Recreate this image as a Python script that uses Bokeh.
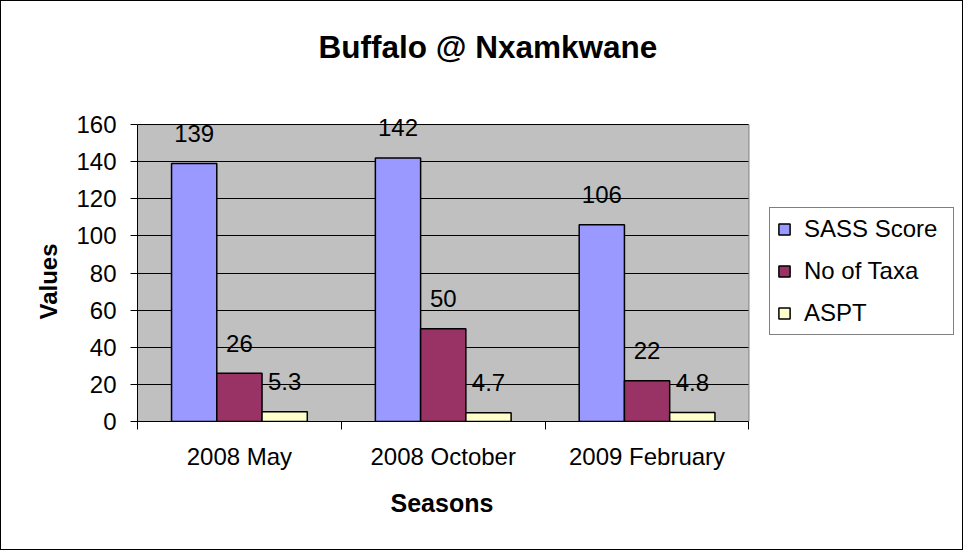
from bokeh.plotting import figure
from bokeh.models import (ColumnDataSource, Range1d, FixedTicker, Legend, LegendItem, Title)
from bokeh.transform import dodge
from bokeh.core.properties import value
from bokeh.embed import file_html
from bokeh.resources import INLINE

# ---- data ----
seasons = ["2008 May", "2008 October", "2009 February"]
sass_score = [139, 142, 106]
no_of_taxa = [26, 50, 22]
aspt = [5.3, 4.7, 4.8]
series_names = ["SASS Score", "No of Taxa", "ASPT"]
series_colors = ["#9999FF", "#993366", "#FFFFCC"]
y_ticks = [0, 20, 40, 60, 80, 100, 120, 140, 160]
title_text = "Buffalo @ Nxamkwane"
x_title = "Seasons"
y_title = "Values"

FONT = "Liberation Sans"

# layout (canvas pixels; the page adds a 1px border around the canvas)
W, H = 961, 548
F_LEFT, PLOT_RIGHT, F_TOP, F_BOTTOM = 136, 746, 113, 418
PLOT_TOP_PX = 123          # where the 160 line sits
n_cat = len(seasons)
y_max = y_ticks[-1]
px_per_unit = (F_BOTTOM - PLOT_TOP_PX) / y_max
y_end = y_max + (PLOT_TOP_PX - F_TOP) / px_per_unit
px_per_cat = (PLOT_RIGHT - F_LEFT) / n_cat
x_end = n_cat + (W - PLOT_RIGHT) / px_per_cat   # frame runs to the right edge (legend area)

centers = [i + 0.5 for i in range(n_cat)]
src = ColumnDataSource(dict(
    x=centers,
    sass=sass_score, taxa=no_of_taxa, aspt=aspt,
    sass_l=[str(v) for v in sass_score],
    taxa_l=[str(v) for v in no_of_taxa],
    aspt_l=[str(v) for v in aspt],
))

p = figure(width=W, height=H, output_backend="svg", toolbar_location=None, title=None,
           x_range=Range1d(0, x_end), y_range=Range1d(0, y_end),
           min_border_left=F_LEFT, min_border_right=0, min_border_top=F_TOP,
           min_border_bottom=H - F_BOTTOM)
p.styles = {"border": "1px solid black", "box-sizing": "content-box"}
p.background_fill_color = "white"
p.border_fill_color = "white"
p.outline_line_color = None

# grey plot area
p.quad(left=[0], right=[n_cat], bottom=[0], top=[y_max],
       fill_color="#C0C0C0", line_color="#808080", line_width=1, level="image")

bw = 0.222
offsets = [-bw, 0.0, bw]
fields = ["sass", "taxa", "aspt"]
labels = ["sass_l", "taxa_l", "aspt_l"]
renderers = []
for f, lab, off, col in zip(fields, labels, offsets, series_colors):
    r = p.vbar(x=dodge("x", off, range=p.x_range), top=f, width=bw, bottom=0,
               source=src, fill_color=col, line_color="black", line_width=1.5)
    renderers.append(r)
    p.text(x=dodge("x", off, range=p.x_range), y=f, text=lab, source=src,
           text_align="center", text_baseline="middle", y_offset=-30,
           text_font=value(FONT), text_font_size="24px", text_color="black")

# axes
xa = p.xaxis[0]
xa.ticker = FixedTicker(ticks=centers, minor_ticks=list(range(n_cat + 1)))
xa.bounds = (0, n_cat)
xa.major_label_overrides = {c: s for c, s in zip(centers, seasons)}
xa.major_tick_out = 0
xa.major_tick_in = 0
xa.minor_tick_out = 8
xa.minor_tick_in = 0
xa.minor_tick_line_color = "black"
xa.axis_line_color = "black"
xa.major_label_standoff = 13
xa.major_label_text_font = FONT
xa.major_label_text_font_size = "24px"
xa.major_label_text_color = "black"

ya = p.yaxis[0]
ya.ticker = FixedTicker(ticks=y_ticks, minor_ticks=[])
ya.bounds = (0, y_max)
ya.major_tick_out = 7
ya.major_tick_in = 0
ya.major_tick_line_color = "black"
ya.axis_line_color = "black"
ya.major_label_standoff = 14
ya.major_label_text_font = FONT
ya.major_label_text_font_size = "24px"
ya.major_label_text_color = "black"

p.xgrid.visible = False
p.ygrid.ticker = FixedTicker(ticks=y_ticks)
p.ygrid.cross_bounds = (0, n_cat)
p.ygrid.grid_line_color = "black"
p.ygrid.grid_line_width = 1

legend = Legend(items=[LegendItem(label=n, renderers=[r]) for n, r in zip(series_names, renderers)],
                location=(632, 86), margin=0, padding=7, spacing=14,
                glyph_width=14, glyph_height=14, label_height=28, label_width=142,
                label_standoff=13, label_text_font=FONT, label_text_font_size="24px",
                label_text_color="black",
                border_line_color="black", border_line_width=1,
                background_fill_color="white", background_fill_alpha=1)
p.add_layout(legend)

# axis titles placed as side titles so they sit under / beside the grey plot area
p.add_layout(Title(text=x_title, align="left", offset=253, standoff=32,
                   vertical_align="top", text_font=FONT, text_font_size="25px",
                   text_font_style="bold", text_color="black"), "below")
p.add_layout(Title(text=y_title, align="left", offset=102, standoff=24,
                   vertical_align="bottom", text_font=FONT, text_font_size="24px",
                   text_font_style="bold", text_color="black"), "left")

# spacer (closest to the frame) and main title (outermost)
p.add_layout(Title(text=" ", text_font_size="1px", standoff=45), "above")
p.add_layout(Title(text=title_text, align="left", offset=181, standoff=0,
                   vertical_align="top", text_font=FONT, text_font_size="31.5px",
                   text_font_style="bold", text_color="black"), "above")

open("out.html", "w").write(file_html(p, INLINE))
